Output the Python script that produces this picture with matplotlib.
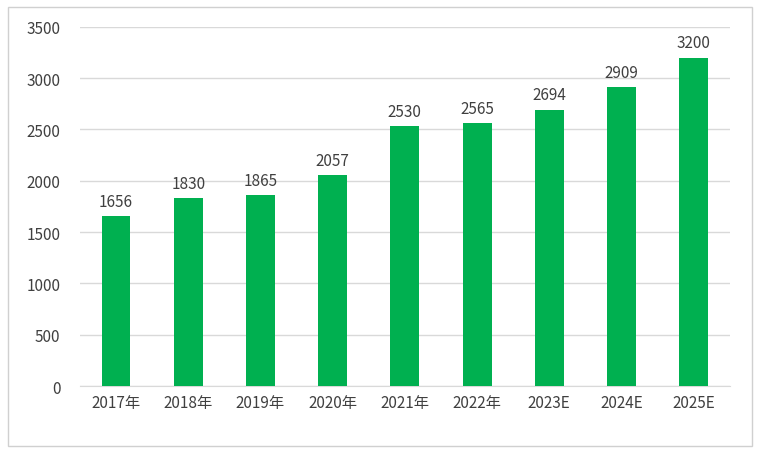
import matplotlib.pyplot as plt
from matplotlib.patches import Rectangle

categories = ['2017年', '2018年', '2019年', '2020年', '2021年', '2022年', '2023E', '2024E', '2025E']
values = [1656, 1830, 1865, 2057, 2530, 2565, 2694, 2909, 3200]
yticks = [0, 500, 1000, 1500, 2000, 2500, 3000, 3500]

plt.rcParams['font.family'] = ['Noto Sans CJK SC', 'DejaVu Sans']

fig = plt.figure(figsize=(7.61, 4.56), dpi=100)
fig.patches.append(Rectangle((0.010, 0.020), 0.978, 0.962, transform=fig.transFigure,
                             fill=False, edgecolor='#D0D0D0', linewidth=1))
ax = fig.add_axes([0.105, 0.151, 0.854, 0.788])

x = range(len(categories))
bars = ax.bar(x, values, width=0.4, color='#00B050', zorder=3)
for xi, v in zip(x, values):
    ax.text(xi, v + 60, str(v), ha='center', va='bottom', fontsize=11, color='#404040')

ax.set_xlim(-0.5, len(categories) - 0.5)
ax.set_ylim(0, 3500)
ax.set_yticks(yticks)
ax.set_xticks(list(x))
ax.set_xticklabels(categories)
ax.yaxis.grid(True, color='#D9D9D9', linewidth=1, zorder=0)
for s in ['top', 'right', 'left']:
    ax.spines[s].set_visible(False)
ax.spines['bottom'].set_color('#D9D9D9')
ax.tick_params(axis='both', length=0, labelsize=11, labelcolor='#404040')
ax.tick_params(axis='y', pad=14)
ax.tick_params(axis='x', pad=6)

fig.savefig('out.png', dpi=100)
